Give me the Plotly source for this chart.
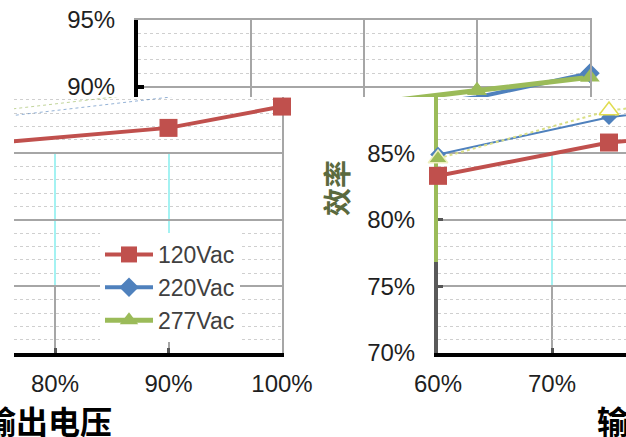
import plotly.graph_objects as go

# ---------------- data ----------------
x_pct = [60, 75, 90, 100]                 # output voltage (%)
eff_120 = [83.3, 85.8, 86.9, 88.5]        # efficiency (%) 120Vac
eff_220 = [84.9, 87.7, 89.2, 91.0]        # efficiency (%) 220Vac
eff_277 = [84.6, 88.2, 89.7, 90.7]        # efficiency (%) 277Vac
series_names = ["120Vac", "220Vac", "277Vac"]
x_ticks = [60, 70, 80, 90, 100]
y_ticks_top = [90, 95]
y_ticks_bottom = [70, 75, 80, 85]
x_title = "输出电压"
y_title = "效率"

# ---------------- layout helpers ----------------
W, H = 626, 437
def fx(p):
    return p / W
def fy(p):
    return 1 - p / H

RED, BLUE, GREEN = "#c0504d", "#4f81bd", "#9bbb59"
GRID, MINOR = "#a6a6a6", "#cfcfcf"
CYAN = "#a4f2f2"
FONT = "Liberation Sans, Arial, sans-serif"

Y95_PX, Y70_PX = 20, 353
pxpp = (Y70_PX - Y95_PX) / 25.0
SPLIT_PX = 97
split_val = 95 - (SPLIT_PX - Y95_PX) / pxpp

top_xr = [60, 100]
bl_xr = [100 - (282 - 14) / 11.35, 100]
br_xr = [60, 60 + (626 - 438) / 11.4]
bot_yr = [70, split_val]
top_yr = [split_val, 95]

def pct(v):
    return f"{v}%"

def visible(xs, ys, xr, yr):
    px_, py_ = [], []
    for a, b in zip(xs, ys):
        if xr[0] - 1e-6 <= a <= xr[1] + 1e-6 and yr[0] <= b <= yr[1] + 1e-6:
            px_.append(a)
            py_.append(b)
    return px_, py_

fig = go.Figure()

def empty(xa, ya=None):
    fig.add_trace(go.Scatter(x=[], y=[], xaxis="x" + xa, yaxis="y" + (ya if ya is not None else xa),
                             showlegend=False, hoverinfo="skip"))

# band subplots (vertical grid segments): ids '', 2, 3, 4
for ax in ["", "2", "3", "4"]:
    empty(ax)

band_x = dict(showline=False, zeroline=False, ticks="", showticklabels=False,
              tickvals=x_ticks, showgrid=True, gridwidth=1.5, automargin=False)
band_y = dict(visible=False, showgrid=False, zeroline=False, automargin=False)
lay = {}
lay["xaxis"] = dict(band_x, domain=[fx(14), fx(282)], range=bl_xr, gridcolor=CYAN, anchor="y")
lay["yaxis"] = dict(band_y, domain=[fy(287), fy(154)], range=[75, 85], anchor="x")
lay["xaxis2"] = dict(band_x, domain=[fx(14), fx(282)], range=bl_xr, gridcolor=GRID, anchor="y2")
lay["yaxis2"] = dict(band_y, domain=[fy(353), fy(287)], range=[70, 75], anchor="x2")
lay["xaxis3"] = dict(band_x, domain=[fx(438), fx(626)], range=br_xr, gridcolor=CYAN, anchor="y3")
lay["yaxis3"] = dict(band_y, domain=[fy(287), fy(154)], range=[75, 85], anchor="x3")
lay["xaxis4"] = dict(band_x, domain=[fx(438), fx(626)], range=br_xr, gridcolor=GRID, anchor="y4")
lay["yaxis4"] = dict(band_y, domain=[fy(353), fy(287)], range=[70, 75], anchor="x4")

series = [(series_names[0], eff_120, RED, "square", 18),
          (series_names[1], eff_220, BLUE, "diamond", 15),
          (series_names[2], eff_277, GREEN, "triangle-up", 17)]

# ---------- top strip (id 5) ----------
for name, ys, col, sym, sz in series:
    fig.add_trace(go.Scatter(x=x_pct, y=ys, name=name, mode="lines+markers",
                             xaxis="x5", yaxis="y5",
                             line=dict(color=col, width=5 if col == GREEN else 4),
                             marker=dict(symbol=sym, size=sz, color=col),
                             cliponaxis=True, showlegend=True))
for name, ys, col, sym, sz in series:
    vx, vy = visible(x_pct, ys, top_xr, top_yr)
    fig.add_trace(go.Scatter(x=vx, y=vy, mode="markers", xaxis="x5", yaxis="y5",
                             marker=dict(symbol=sym, size=sz, color=col),
                             cliponaxis=False, showlegend=False, hoverinfo="skip"))

# ---------- bottom-left (id 6) ----------
for ys, col in [(eff_220, BLUE), (eff_277, GREEN)]:
    fig.add_trace(go.Scatter(x=x_pct, y=ys, mode="lines", xaxis="x6", yaxis="y6",
                             line=dict(color=col, width=1, dash="dot"), opacity=0.6,
                             showlegend=False, hoverinfo="skip"))
fig.add_trace(go.Scatter(x=x_pct, y=eff_120, mode="lines", xaxis="x6", yaxis="y6",
                         line=dict(color=RED, width=4), showlegend=False))
vx, vy = visible(x_pct, eff_120, bl_xr, bot_yr)
fig.add_trace(go.Scatter(x=vx, y=vy, mode="markers", xaxis="x6", yaxis="y6",
                         marker=dict(symbol="square", size=18, color=RED),
                         cliponaxis=False, showlegend=False))

# ---------- bottom-right (id 7) ----------
fig.add_trace(go.Scatter(x=x_pct, y=eff_220, mode="lines", xaxis="x7", yaxis="y7",
                         line=dict(color=BLUE, width=2), showlegend=False))
vx, vy = visible(x_pct, eff_220, br_xr, bot_yr)
fig.add_trace(go.Scatter(x=vx, y=vy, mode="markers", xaxis="x7", yaxis="y7",
                         marker=dict(symbol="diamond", size=12, color=BLUE),
                         cliponaxis=False, showlegend=False))
fig.add_trace(go.Scatter(x=x_pct, y=eff_277, mode="lines", xaxis="x7", yaxis="y7",
                         line=dict(color="#d9df86", width=2, dash="dot"), showlegend=False))
vx, vy = visible(x_pct, eff_277, br_xr, bot_yr)
cols = [GREEN] + ["white"] * (len(vx) - 1)
lcols = ["#eef0c0"] + ["#e0dc50"] * (len(vx) - 1)
fig.add_trace(go.Scatter(x=vx, y=vy, mode="markers", xaxis="x7", yaxis="y7",
                         marker=dict(symbol="triangle-up", size=17, color=cols,
                                     line=dict(color=lcols, width=1.5)),
                         cliponaxis=False, showlegend=False))
fig.add_trace(go.Scatter(x=x_pct, y=eff_120, mode="lines", xaxis="x7", yaxis="y7",
                         line=dict(color=RED, width=4), showlegend=False))
vx, vy = visible(x_pct, eff_120, br_xr, bot_yr)
fig.add_trace(go.Scatter(x=vx, y=vy, mode="markers", xaxis="x7", yaxis="y7",
                         marker=dict(symbol="square", size=18, color=RED),
                         cliponaxis=False, showlegend=False))

# decor (id 8): lower, dark part of bottom-right y axis line
empty("8")
# decor (id 9): gray top / right border of the top strip
empty("9")

tickfont = dict(family=FONT, size=24, color="#1f1f1f")
minor_y = dict(tickmode="linear", tick0=70, dtick=1, showgrid=True,
               gridcolor=MINOR, griddash="dot", gridwidth=1, ticks="")

lay["xaxis5"] = dict(domain=[fx(138), fx(590)], range=top_xr, anchor="y5",
                     tickvals=x_ticks, showticklabels=False, ticks="",
                     showgrid=True, gridcolor=GRID, gridwidth=1.5, automargin=False,
                     showline=False, zeroline=False, layer="below traces")
lay["yaxis5"] = dict(domain=[fy(SPLIT_PX), fy(Y95_PX)], range=top_yr, anchor="x5",
                     tickvals=y_ticks_top, ticktext=[pct(v) for v in y_ticks_top],
                     tickfont=tickfont, ticks="inside", ticklen=6, tickwidth=4,
                     tickcolor="black", showline=True, linecolor="black", linewidth=4,
                     showgrid=True, gridcolor=GRID, gridwidth=1.5, minor=minor_y,
                     zeroline=False, ticklabelstandoff=14, automargin=False,
                     layer="below traces")
lay["xaxis9"] = dict(overlaying="x5", side="top", range=top_xr, anchor="y9",
                     showline=True, linecolor=GRID, linewidth=2, ticks="",
                     showticklabels=False, showgrid=False, zeroline=False,
                     automargin=False)
lay["yaxis9"] = dict(overlaying="y5", side="right", range=top_yr, anchor="x9",
                     showline=True, linecolor=GRID, linewidth=2, ticks="",
                     showticklabels=False, showgrid=False, zeroline=False,
                     automargin=False)

lay["xaxis6"] = dict(domain=[fx(14), fx(282)], range=bl_xr, anchor="y6",
                     tickvals=x_ticks, ticktext=[pct(v) for v in x_ticks],
                     tickfont=tickfont, ticks="inside", ticklen=5, tickwidth=3,
                     tickcolor="#555555", showline=True, linecolor="black", linewidth=4,
                     showgrid=False, zeroline=False, ticklabelstandoff=6,
                     automargin=False, layer="below traces")
lay["yaxis6"] = dict(domain=[fy(Y70_PX), fy(SPLIT_PX)], range=bot_yr, anchor="x6",
                     side="right", tickvals=y_ticks_bottom, showticklabels=False,
                     ticks="", showline=True, linecolor=GRID, linewidth=2,
                     showgrid=True, gridcolor=GRID, gridwidth=1.5, minor=minor_y,
                     zeroline=False, automargin=False, layer="below traces")

lay["xaxis7"] = dict(domain=[fx(438), fx(626)], range=br_xr, anchor="y7",
                     tickvals=x_ticks, ticktext=[pct(v) for v in x_ticks],
                     tickfont=tickfont, ticks="inside", ticklen=5, tickwidth=3,
                     tickcolor="#555555", showline=True, linecolor="black", linewidth=4,
                     showgrid=False, zeroline=False, ticklabelstandoff=6,
                     automargin=False, layer="below traces")
lay["yaxis7"] = dict(domain=[fy(Y70_PX), fy(SPLIT_PX)], range=bot_yr, anchor="x7",
                     tickvals=y_ticks_bottom, ticktext=[pct(v) for v in y_ticks_bottom],
                     tickfont=tickfont, ticks="inside", ticklen=5, tickwidth=3,
                     tickcolor="#555555", showline=True, linecolor=GREEN, linewidth=4,
                     showgrid=True, gridcolor=GRID, gridwidth=1.5, minor=minor_y,
                     zeroline=False, ticklabelstandoff=14, automargin=False,
                     layer="below traces")

lay["xaxis8"] = dict(domain=[fx(438), fx(626)], range=br_xr, anchor="y8", visible=False,
                     automargin=False)
lay["yaxis8"] = dict(domain=[fy(Y70_PX), fy(262)], range=[70, 76.8], anchor="x8",
                     showline=True, linecolor="#595959", linewidth=4,
                     tickvals=[75], ticks="inside", ticklen=5, tickwidth=3,
                     tickcolor="#555555", showticklabels=False, showgrid=False,
                     zeroline=False, automargin=False)

title_font = dict(family="Noto Sans CJK SC", size=32, color="black")
annotations = [
    dict(text=f"<b>{x_title}</b>", x=fx(48), y=fy(420), xref="paper", yref="paper",
         xanchor="center", yanchor="middle", showarrow=False, font=title_font),
    dict(text=f"<b>{x_title}</b>", x=fx(661), y=fy(420), xref="paper", yref="paper",
         xanchor="center", yanchor="middle", showarrow=False, font=title_font),
    dict(text=f"<b>{y_title}</b>", x=fx(336), y=fy(188), xref="paper", yref="paper",
         xanchor="center", yanchor="middle", textangle=-90, showarrow=False,
         font=dict(family="Noto Sans CJK SC", size=28, color="#5b6a3e")),
]

fig.update_layout(
    template="none",
    width=W, height=H, autosize=False,
    margin=dict(l=0, r=0, t=0, b=0, pad=0),
    paper_bgcolor="white", plot_bgcolor="rgba(0,0,0,0)",
    font=dict(family=FONT),
    showlegend=True,
    legend=dict(x=fx(100), y=fy(233), xanchor="left", yanchor="top",
                bgcolor="white", borderwidth=0, tracegroupgap=0,
                font=dict(family=FONT, size=23, color="#404040"),
                itemwidth=48),
    annotations=annotations,
    **lay,
)

fig.write_html(
    "out.html",
    config={"displayModeBar": False},
    post_script="document.body.style.margin='0';document.body.style.padding='0';"
                "document.body.style.overflow='hidden';",
)
